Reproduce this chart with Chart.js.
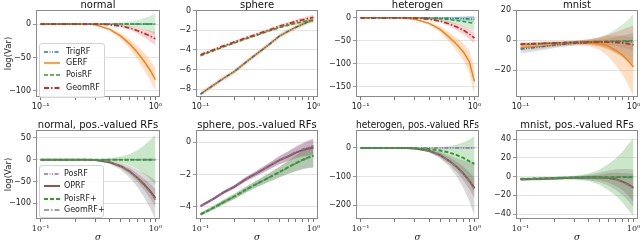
<!DOCTYPE html>
<html>
<head>
<meta charset="utf-8">
<script src="https://cdn.jsdelivr.net/npm/chart.js@4.4.1/dist/chart.umd.min.js"></script>
<style>
	body { margin: 0; background: #fff; }
	#fig { position: relative; width: 640px; height: 243px; overflow: hidden; font-family: 'DejaVu Sans', sans-serif; }
	#fig canvas { position: absolute; }
	.legend { position: absolute; background: rgba(255, 255, 255, 0.85); border: 1px solid #d4d4d4; border-radius: 3px; font-size: 8px; color: #222; }
	.legend .item { position: absolute; left: 0; height: 10px; line-height: 10px; white-space: nowrap; }
	.legend svg { position: absolute; left: 4px; top: 0; }
	.legend span { position: absolute; top: 0; }
</style>
</head>
<body>
<div id="fig"></div>
<script>
// sigma grid and x tick values
const sigma = [0.1, 0.13, 0.16, 0.2, 0.25, 0.3, 0.4, 0.5, 0.6, 0.7, 0.8, 0.9, 1.0];
const xTicks = [0.1, 0.2, 0.3, 0.4, 0.5, 0.6, 0.7, 0.8, 0.9, 1.0];

// normal
const normalTrig = [0, 0, 0, 0, 0, 0, 0, 0, 0, 0, 0, 0, 0];
const normalTrigSd = [0.3, 0.3, 0.3, 0.3, 0.3, 0.3, 0.3, 0.4, 0.5, 0.6, 0.8, 1, 1.2];
const normalGerf = [0, 0, 0, 0, 0, -1, -8, -18, -30, -43, -56, -69, -83];
const normalGerfSd = [0.3, 0.3, 0.3, 0.3, 0.3, 0.6, 2, 4, 7, 10, 13, 15, 17];
const normalPois = [0, 0, 0, 0, 0, 0, 0, 0, 0, 0, 0, 0, 0];
const normalPoisSd = [0.3, 0.3, 0.3, 0.3, 0.3, 0.5, 1, 2, 4, 6, 9, 12, 16];
const normalGeom = [0, 0, 0, 0, 0, 0, -1, -3, -6, -10, -14, -18, -22];
const normalGeomSd = [0.3, 0.3, 0.3, 0.3, 0.3, 0.3, 0.8, 1.5, 3, 4, 6, 8, 10];

// sphere
const sphereTrig = [-8.5, -7.6, -6.9, -6.2, -5.3, -4.6, -3.5, -2.6, -2.1, -1.7, -1.4, -1.15, -1.0];
const sphereTrigSd = [0.12, 0.12, 0.12, 0.12, 0.12, 0.12, 0.12, 0.12, 0.12, 0.12, 0.12, 0.12, 0.12];
const sphereGerf = [-8.5, -7.6, -6.9, -6.2, -5.3, -4.6, -3.5, -2.6, -2.1, -1.7, -1.4, -1.15, -1.0];
const sphereGerfSd = [0.25, 0.25, 0.25, 0.25, 0.25, 0.25, 0.25, 0.25, 0.25, 0.25, 0.25, 0.25, 0.25];
const spherePois = [-4.6, -4.1, -3.7, -3.3, -2.9, -2.6, -2.1, -1.75, -1.5, -1.3, -1.15, -1.05, -0.98];
const spherePoisSd = [0.1, 0.1, 0.1, 0.1, 0.1, 0.1, 0.11, 0.12, 0.12, 0.13, 0.14, 0.15, 0.15];
const sphereGeom = [-4.5, -4.0, -3.6, -3.2, -2.8, -2.5, -2.0, -1.6, -1.35, -1.1, -0.95, -0.8, -0.7];
const sphereGeomSd = [0.12, 0.12, 0.12, 0.12, 0.12, 0.12, 0.14, 0.16, 0.18, 0.2, 0.22, 0.25, 0.28];

// heterogen
const hetTrig = [0, 0, 0, 0, 0, 0, 0, -0.5, -1, -1.5, -2, -2.5, -3];
const hetTrigSd = [0.5, 0.5, 0.5, 0.5, 0.5, 0.5, 1, 2, 3, 4, 5, 5.5, 6];
const hetGerf = [0, 0, 0, 0, -1, -3, -12, -25, -42, -58, -74, -95, -138];
const hetGerfSd = [0.5, 0.5, 0.5, 0.5, 0.7, 1, 3, 6, 10, 14, 18, 23, 30];
const hetPois = [0, 0, 0, 0, 0, 0, -1, -2, -4, -6, -8, -10, -12];
const hetPoisSd = [0.5, 0.5, 0.5, 0.5, 0.5, 0.7, 2, 4, 6, 8, 11, 14, 17];
const hetGeom = [0, 0, 0, 0, 0, -0.5, -3, -7, -13, -20, -27, -35, -44];
const hetGeomSd = [0.5, 0.5, 0.5, 0.5, 0.5, 0.7, 1.5, 3, 5, 7, 9, 11, 12];

// mnist
const mnistTrig = [-6, -5.2, -4.4, -3.5, -2.8, -2.3, -1.7, -1.3, -1.1, -1, -1, -1, -1.2];
const mnistTrigSd = [3, 2.6, 2.2, 1.8, 1.5, 1.3, 1.2, 1.5, 2, 3, 4, 5, 6];
const mnistGerf = [-5, -4.5, -4, -3.2, -2.6, -2.2, -2, -2.5, -4, -7, -10, -14, -18];
const mnistGerfSd = [2.2, 2, 1.8, 1.6, 1.5, 1.5, 2, 4, 7, 10, 13, 16, 20];
const mnistPois = [-3, -2.7, -2.4, -2, -1.7, -1.5, -1.2, -1, -0.8, -0.7, -0.6, -0.5, -0.5];
const mnistPoisSd = [1.2, 1.1, 1, 1, 1, 1, 1.5, 3, 5, 8, 11, 14, 18];
const mnistGeom = [-2.7, -2.5, -2.2, -2, -1.8, -1.6, -1.4, -1.3, -1.4, -1.6, -2, -2.6, -3.3];
const mnistGeomSd = [1, 1, 1, 1, 1, 1, 2, 3, 5, 7, 9, 11, 13];

// normal, pos.-valued
const npPos = [0, 0, 0, 0, 0, 0, 0, 0, 0, 0, 0, 0, 0];
const npPosSd = [0.5, 0.5, 0.5, 0.5, 0.5, 0.5, 0.5, 0.5, 1, 1.5, 2, 2.5, 3];
const npOprf = [0, 0, 0, 0, 0, -1, -6, -15, -27, -42, -57, -72, -88];
const npOprfSd = [0.3, 0.3, 0.3, 0.3, 0.3, 0.5, 2, 4, 7, 10, 13, 17, 20];
const npPois = [0, 0, 0, 0, 0, 0, 0, 0, 0, 0, 0, 0, 0];
const npPoisSd = [0.3, 0.3, 0.3, 0.3, 0.5, 1, 3, 7, 13, 22, 33, 45, 57];
const npGeom = [0, 0, 0, 0, 0, -1, -6, -15, -28, -43, -59, -75, -92];
const npGeomSd = [0.3, 0.3, 0.3, 0.3, 0.3, 1, 4, 8, 14, 20, 28, 36, 45];

// sphere, pos.-valued
const spPos = [-3.95, -3.5, -3.1, -2.75, -2.3, -2.0, -1.5, -1.1, -0.85, -0.6, -0.45, -0.32, -0.25];
const spPosSd = [0.08, 0.09, 0.1, 0.11, 0.13, 0.15, 0.2, 0.25, 0.3, 0.35, 0.4, 0.45, 0.5];
const spOprf = [-3.95, -3.5, -3.1, -2.75, -2.3, -2.0, -1.5, -1.12, -0.88, -0.65, -0.5, -0.4, -0.35];
const spOprfSd = [0.08, 0.09, 0.1, 0.11, 0.13, 0.15, 0.2, 0.25, 0.3, 0.35, 0.4, 0.45, 0.5];
const spPois = [-4.45, -4.05, -3.7, -3.35, -2.95, -2.65, -2.2, -1.85, -1.55, -1.3, -1.1, -0.95, -0.85];
const spPoisSd = [0.1, 0.12, 0.14, 0.16, 0.18, 0.2, 0.26, 0.32, 0.4, 0.48, 0.56, 0.63, 0.7];
const spGeom = [-4.45, -4.05, -3.7, -3.35, -2.95, -2.65, -2.2, -1.86, -1.56, -1.32, -1.12, -0.97, -0.88];
const spGeomSd = [0.1, 0.12, 0.14, 0.16, 0.18, 0.2, 0.26, 0.32, 0.4, 0.48, 0.56, 0.63, 0.7];

// heterogen, pos.-valued
const hpPos = [0, 0, 0, 0, 0, 0, 0, 0, 0, 0, 0, 0, 0];
const hpPosSd = [0.5, 0.5, 0.5, 0.5, 0.5, 0.5, 0.5, 1, 1.5, 2, 2.5, 3, 4];
const hpOprf = [0, 0, 0, 0, 0, -2, -10, -25, -45, -67, -90, -115, -140];
const hpOprfSd = [0.5, 0.5, 0.5, 0.5, 0.5, 1, 4, 8, 12, 18, 24, 30, 36];
const hpPois = [0, 0, 0, 0, 0, -1, -4, -9, -16, -25, -35, -46, -56];
const hpPoisSd = [0.5, 0.5, 0.5, 0.5, 0.7, 1.5, 5, 12, 22, 37, 55, 75, 98];
const hpGeom = [0, 0, 0, 0, 0, -2, -10, -25, -45, -68, -92, -117, -143];
const hpGeomSd = [0.5, 0.5, 0.5, 0.5, 0.5, 2, 6, 12, 20, 32, 48, 68, 95];

// mnist, pos.-valued
const mpPos = [-2.5, -2.2, -2, -1.6, -1.3, -1.1, -0.9, -0.8, -0.7, -0.7, -0.7, -0.8, -0.9];
const mpPosSd = [0.5, 0.5, 0.5, 0.5, 0.5, 0.5, 0.5, 0.5, 0.6, 0.8, 1, 1.2, 1.5];
const mpOprf = [-3, -2.7, -2.4, -2, -1.6, -1.3, -1, -1, -1.5, -3, -5.5, -8.5, -12];
const mpOprfSd = [1, 1, 1, 1, 1, 1, 2, 3, 5, 7, 9, 12, 15];
const mpPois = [-2.5, -2.2, -2, -1.6, -1.3, -1.1, -0.9, -0.8, -0.7, -0.6, -0.6, -0.6, -0.6];
const mpPoisSd = [1, 1, 1, 1, 1.5, 2, 4, 8, 14, 20, 27, 35, 42];
const mpGeom = [-3.2, -2.9, -2.5, -2.1, -1.7, -1.4, -1.1, -1.1, -1.7, -3.3, -6, -9, -12.5];
const mpGeomSd = [1.5, 1.5, 1.5, 1.5, 1.5, 1.5, 3, 5, 8, 11, 14, 17, 20];

const styles = {
	'TrigRF': { color: '#1f77b4', dash: [4, 1.5, 1, 1.5, 1, 1.5], width: 1.5, alpha: 0.2, z: 1 },
	'GERF': { color: '#ff7f0e', dash: [], width: 1.5, alpha: 0.25, z: 0 },
	'PoisRF': { color: '#2ca02c', dash: [4, 2], width: 1.5, alpha: 0.2, z: 2 },
	'GeomRF': { color: '#d62728', dash: [5, 2, 1.5, 2], width: 1.8, alpha: 0.2, z: 3 },
	'PosRF': { color: '#9467bd', dash: [4, 1.5, 1, 1.5, 1, 1.5], width: 1.5, alpha: 0.25, z: 2 },
	'OPRF': { color: '#8c564b', dash: [], width: 2, alpha: 0.3, z: 0 },
	'PoisRF+': { color: '#2ca02c', dash: [4, 2], width: 2, alpha: 0.25, z: 3 },
	'GeomRF+': { color: '#7f7f7f', dash: [5, 2, 1.5, 2], width: 1.5, alpha: 0.3, z: 1 },
};

const panels = [
	{ L: 36, R: 160, T: 10, B: 97, title: 'normal', yMin: -109, yMax: 21, yTicks: [-100, -50, 0], yTitle: 'log(Var)',
		series: [['TrigRF', normalTrig, normalTrigSd], ['GERF', normalGerf, normalGerfSd], ['PoisRF', normalPois, normalPoisSd], ['GeomRF', normalGeom, normalGeomSd]] },
	{ L: 196, R: 318, T: 10, B: 97, title: 'sphere', yMin: -8.8, yMax: 0.05, yTicks: [-8, -6, -4, -2, 0],
		series: [['TrigRF', sphereTrig, sphereTrigSd], ['GERF', sphereGerf, sphereGerfSd], ['PoisRF', spherePois, spherePoisSd], ['GeomRF', sphereGeom, sphereGeomSd]] },
	{ L: 356, R: 479, T: 10, B: 97, title: 'heterogen', yMin: -172, yMax: 17, yTicks: [-150, -100, -50, 0],
		series: [['TrigRF', hetTrig, hetTrigSd], ['GERF', hetGerf, hetGerfSd], ['PoisRF', hetPois, hetPoisSd], ['GeomRF', hetGeom, hetGeomSd]] },
	{ L: 516, R: 638, T: 10, B: 97, title: 'mnist', yMin: -38, yMax: 20, yTicks: [-20, 0, 20],
		series: [['TrigRF', mnistTrig, mnistTrigSd], ['GERF', mnistGerf, mnistGerfSd], ['PoisRF', mnistPois, mnistPoisSd], ['GeomRF', mnistGeom, mnistGeomSd]] },
	{ L: 36, R: 160, T: 130, B: 219, title: 'normal, pos.-valued RFs', yMin: -136, yMax: 68, yTicks: [-100, -50, 0, 50], yTitle: 'log(Var)', xTitle: 'σ',
		series: [['PosRF', npPos, npPosSd], ['OPRF', npOprf, npOprfSd], ['PoisRF+', npPois, npPoisSd], ['GeomRF+', npGeom, npGeomSd]] },
	{ L: 196, R: 318, T: 130, B: 219, title: 'sphere, pos.-valued RFs', yMin: -4.74, yMax: 0.74, yTicks: [-4, -2, 0], xTitle: 'σ',
		series: [['PosRF', spPos, spPosSd], ['OPRF', spOprf, spOprfSd], ['PoisRF+', spPois, spPoisSd], ['GeomRF+', spGeom, spGeomSd]] },
	{ L: 356, R: 479, T: 130, B: 219, title: 'heterogen, pos.-valued RFs', yMin: -249, yMax: 63, yTicks: [-200, -100, 0], xTitle: 'σ',
		series: [['PosRF', hpPos, hpPosSd], ['OPRF', hpOprf, hpOprfSd], ['PoisRF+', hpPois, hpPoisSd], ['GeomRF+', hpGeom, hpGeomSd]] },
	{ L: 516, R: 638, T: 130, B: 219, title: 'mnist, pos.-valued RFs', yMin: -45.3, yMax: 49.6, yTicks: [-40, -20, 0, 20, 40], xTitle: 'σ',
		series: [['PosRF', mpPos, mpPosSd], ['OPRF', mpOprf, mpOprfSd], ['PoisRF+', mpPois, mpPoisSd], ['GeomRF+', mpGeom, mpGeomSd]] },
];

const legends = [
	{ left: 39, top: 43, width: 64, height: 53, rows: [8, 19, 31, 44], textLeft: 26, names: ['TrigRF', 'GERF', 'PoisRF', 'GeomRF'] },
	{ left: 39, top: 165, width: 63, height: 51, rows: [8, 20, 33, 44], textLeft: 24, names: ['PosRF', 'OPRF', 'PoisRF+', 'GeomRF+'] },
];

function rgba(hex, a) {
	const n = parseInt(hex.slice(1), 16);
	return `rgba(${(n >> 16) & 255},${(n >> 8) & 255},${n & 255},${a})`;
}

const framePlugin = {
	id: 'frame',
	afterDraw(chart) {
		const a = chart.chartArea;
		const ctx = chart.ctx;
		ctx.save();
		ctx.strokeStyle = '#8a8a8a';
		ctx.lineWidth = 1;
		ctx.strokeRect(Math.round(a.left) + 0.5, Math.round(a.top) + 0.5, Math.round(a.right - a.left) - 1, Math.round(a.bottom - a.top) - 1);
		ctx.restore();
	},
};

const fig = document.getElementById('fig');

panels.forEach((p, k) => {
	const yW = p.L < 100 ? 36 : 34;
	const titleH = 14;
	const xH = p.xTitle ? 24 : 14;
	const padRight = 6;
	const canvas = document.createElement('canvas');
	canvas.width = yW + (p.R - p.L) + padRight;
	canvas.height = titleH + (p.B - p.T) + xH;
	canvas.style.left = (p.L - yW) + 'px';
	canvas.style.top = (p.T - titleH) + 'px';
	fig.appendChild(canvas);

	const datasets = [];
	p.series.forEach(([name, mean, sd], i) => {
		const st = styles[name];
		const lo = mean.map((m, j) => ({ x: sigma[j], y: m - sd[j] }));
		const hi = mean.map((m, j) => ({ x: sigma[j], y: m + sd[j] }));
		const loIndex = datasets.length;
		datasets.push({ data: lo, borderWidth: 0, pointRadius: 0, fill: false, order: 30 - i });
		datasets.push({ data: hi, borderWidth: 0, pointRadius: 0, fill: loIndex, backgroundColor: rgba(st.color, st.alpha), order: 30 - i });
		datasets.push({
			label: name,
			data: mean.map((m, j) => ({ x: sigma[j], y: m })),
			borderColor: st.color,
			borderDash: st.dash,
			borderWidth: st.width,
			pointRadius: 0,
			fill: false,
			order: 10 - st.z,
		});
	});

	new Chart(canvas, {
		type: 'line',
		data: { datasets },
		options: {
			responsive: false,
			animation: false,
			devicePixelRatio: 1,
			layout: { padding: { left: 0, right: padRight, top: 0, bottom: 0 } },
			plugins: {
				legend: { display: false },
				tooltip: { enabled: false },
				title: {
					display: true,
					fullSize: false,
					text: p.title,
					color: '#111',
					font: { family: 'DejaVu Sans', size: 10, weight: 'normal', lineHeight: 1 },
					padding: { top: 4, bottom: 0 },
				},
			},
			scales: {
				x: {
					type: 'logarithmic',
					min: Math.pow(10, -1.04),
					max: Math.pow(10, 0.04),
					afterBuildTicks: (s) => { s.ticks = xTicks.map((v) => ({ value: v })); },
					afterFit: (s) => { s.height = xH; s.paddingLeft = 0; s.paddingRight = 0; },
					border: { display: false },
					grid: { drawOnChartArea: false, drawTicks: true, tickLength: 3, tickColor: '#777' },
					ticks: {
						autoSkip: false,
						maxRotation: 0,
						padding: 2,
						color: '#222',
						font: { family: p.xTitle ? 'DejaVu Serif' : 'DejaVu Sans', size: 8 },
						callback: (v) => (Math.abs(v - 0.1) < 1e-9 ? '10⁻¹' : Math.abs(v - 1) < 1e-9 ? '10⁰' : ''),
					},
					title: {
						display: !!p.xTitle,
						text: p.xTitle || '',
						color: '#222',
						font: { family: 'DejaVu Serif', size: 9, style: 'italic', lineHeight: 1.1 },
						padding: { top: 0, bottom: 0 },
					},
				},
				y: {
					min: p.yMin,
					max: p.yMax,
					afterBuildTicks: (s) => { s.ticks = p.yTicks.map((v) => ({ value: v })); },
					afterFit: (s) => { s.width = yW; s.paddingTop = 0; s.paddingBottom = 0; },
					border: { display: false },
					grid: { color: '#dddddd', lineWidth: 0.8, drawTicks: true, tickLength: 3, tickColor: '#777' },
					ticks: {
						padding: 2,
						color: '#222',
						font: { family: 'DejaVu Sans', size: 8 },
						callback: (v) => (v < 0 ? '−' + Math.abs(v) : String(v)),
					},
					title: {
						display: !!p.yTitle,
						text: p.yTitle || '',
						color: '#222',
						font: { family: 'DejaVu Sans', size: 8.5, lineHeight: 1.2 },
						padding: { top: 4, bottom: 0 },
					},
				},
			},
		},
		plugins: [framePlugin],
	});
});

// legends drawn as html boxes inside the first column
legends.forEach((lg) => {
	const box = document.createElement('div');
	box.className = 'legend';
	box.style.left = lg.left + 'px';
	box.style.top = lg.top + 'px';
	box.style.width = lg.width + 'px';
	box.style.height = lg.height + 'px';
	lg.names.forEach((name, i) => {
		const st = styles[name];
		const item = document.createElement('div');
		item.className = 'item';
		item.style.top = (lg.rows[i] - 5) + 'px';
		item.innerHTML = `<svg width="16" height="10"><line x1="0" y1="5" x2="16" y2="5" stroke="${st.color}" stroke-width="${st.width}" stroke-dasharray="${st.dash.join(' ') || 'none'}"/></svg><span style="left:${lg.textLeft}px">${name}</span>`;
		box.appendChild(item);
	});
	fig.appendChild(box);
});
</script>
</body>
</html>
